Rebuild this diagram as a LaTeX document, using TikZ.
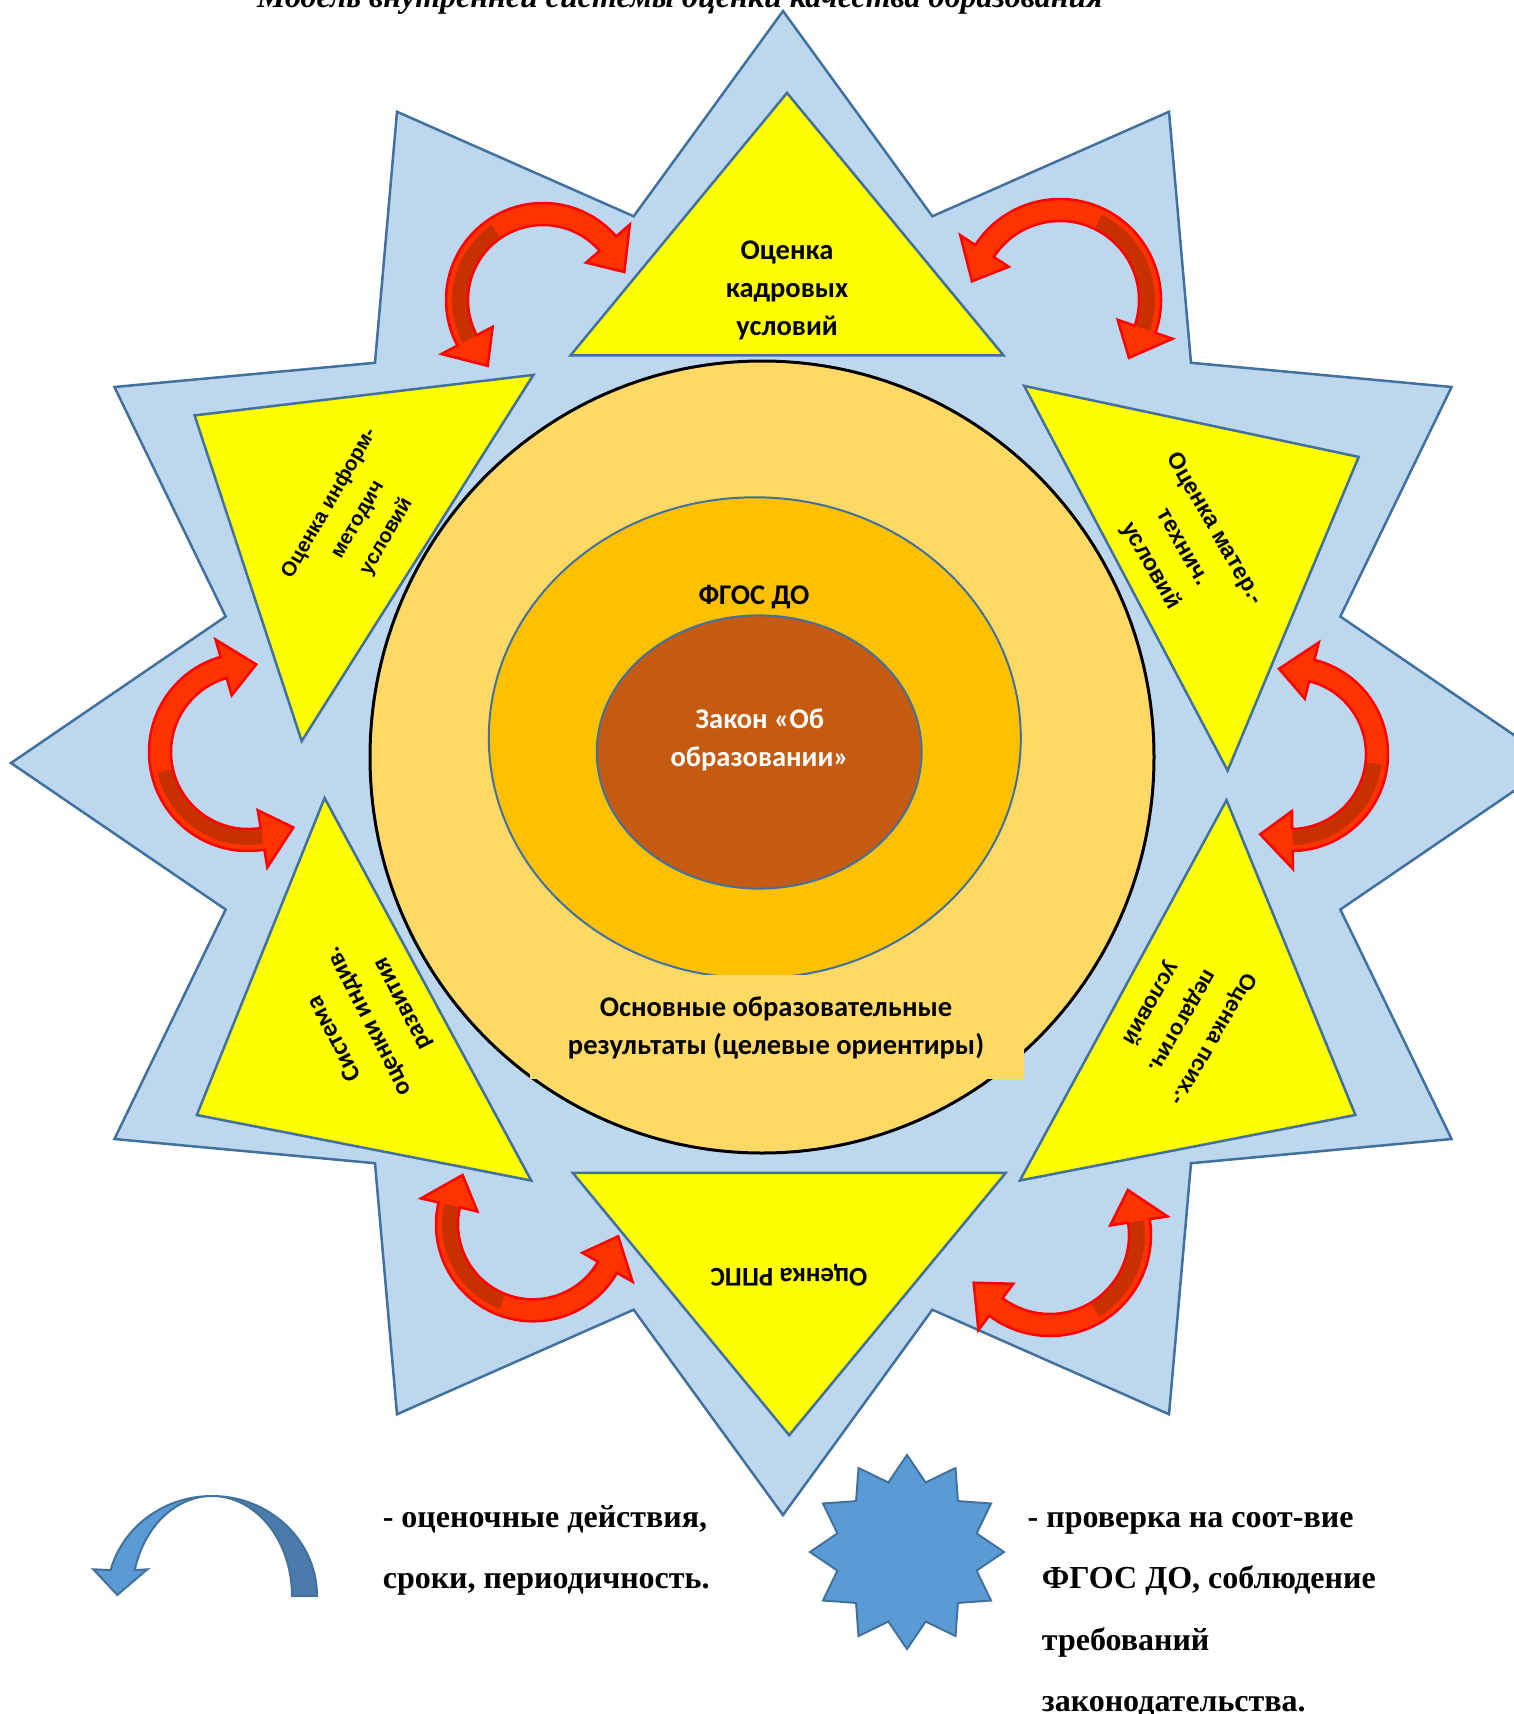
\documentclass[tikz,border=0pt]{standalone}
\usepackage{fontspec}
\setmainfont{Carlito}
\newfontfamily\ari{Liberation Sans}
\newfontfamily\tnr{Liberation Serif}
\usetikzlibrary{calc}
\definecolor{starblue}{HTML}{BDD7EE}
\definecolor{edgeblue}{HTML}{41719C}
\definecolor{triyellow}{HTML}{FFFF00}
\definecolor{circfill}{HTML}{FFD966}
\definecolor{midfill}{HTML}{FFC000}
\definecolor{innfill}{HTML}{C55A11}
\definecolor{arrlight}{HTML}{FF3300}
\definecolor{arrdark}{HTML}{C83000}
\definecolor{arredge}{HTML}{FF0000}
\definecolor{legblue}{HTML}{5B9BD5}
\definecolor{legdark}{HTML}{4A7BAA}
\tikzset{
  tri/.style={fill=triyellow,draw=edgeblue,line width=2.5pt,line join=miter},
  caltext/.style={font=\bfseries\fontsize{28.5}{38}\selectfont,align=center,inner sep=0pt},
  aritext/.style={align=center,inner sep=0pt},
  legtext/.style={font=\tnr\bfseries\fontsize{32}{61}\selectfont,anchor=base west,inner sep=0pt},
}
\newcommand{\rarrow}[6]{%
 \begin{scope}[shift={(#1,#2)}]
  \pgfmathsetmacro\Ra{#3}\pgfmathsetmacro\Aa{#4}\pgfmathsetmacro\Ab{#5}
  \pgfmathsetmacro\Dl{33/\Ra*180/pi}
  \pgfmathsetmacro\Ba{\Aa+\Dl}\pgfmathsetmacro\Bb{\Ab-\Dl}
  \pgfmathsetmacro\Ro{\Ra+11}\pgfmathsetmacro\Ri{\Ra-11}
  \pgfmathsetmacro\Ho{\Ra+29}\pgfmathsetmacro\Hi{\Ra-29}
  \pgfmathsetmacro\Mid{(\Aa+\Ab)/2}
  \pgfmathsetmacro\Rd{\Ra+5}
  \ifnum#6=1 \pgfmathsetmacro\Ds{\Ba}\pgfmathsetmacro\De{\Mid}\else \pgfmathsetmacro\Ds{\Mid}\pgfmathsetmacro\De{\Bb}\fi
  \fill[arrlight] (\Aa:\Ra) -- (\Ba:\Ho) -- (\Ba:\Ro) arc[start angle=\Ba,end angle=\Bb,radius=\Ro] -- (\Bb:\Ho) -- (\Ab:\Ra) -- (\Bb:\Hi) -- (\Bb:\Ri) arc[start angle=\Bb,end angle=\Ba,radius=\Ri] -- (\Ba:\Hi) -- cycle;
  \fill[arrdark] (\Ds:\Ri) arc[start angle=\Ds,end angle=\De,radius=\Ri] -- (\De:\Rd) arc[start angle=\De,end angle=\Ds,radius=\Rd] -- cycle;
  \draw[arredge,line width=2.5pt,line join=miter] (\Aa:\Ra) -- (\Ba:\Ho) -- (\Ba:\Ro) arc[start angle=\Ba,end angle=\Bb,radius=\Ro] -- (\Bb:\Ho) -- (\Ab:\Ra) -- (\Bb:\Hi) -- (\Bb:\Ri) arc[start angle=\Bb,end angle=\Ba,radius=\Ri] -- (\Ba:\Hi) -- cycle;
 \end{scope}}
\begin{document}
\begin{tikzpicture}[x=1pt,y=1pt]
\useasboundingbox (0,0) rectangle (1514,-1714);
\fill[white] (0,0) rectangle (1514,-1714);
% title (cut off at top)
\node[font=\tnr\bfseries\itshape\fontsize{32}{38}\selectfont,anchor=base,inner sep=0pt] (title) at (680,-7) {Модель внутренней системы оценки качества образования};
% big star
\begin{scope}[shift={(783,-763)}]
\draw[fill=starblue,draw=edgeblue,line width=2.5pt,line join=miter] (90:772 and 752)
  \foreach \k in {1,...,11} { -- ({90+30*\k-15}:577 and 566) -- ({90+30*\k}:772 and 752) }
  -- (75:577 and 566) -- cycle;
\end{scope}
% circles
\draw[fill=circfill,draw=black,line width=3pt] (762,-757) ellipse[x radius=392,y radius=396];
\draw[fill=midfill,draw=edgeblue,line width=2pt] (754.8,-737.8) ellipse[x radius=266,y radius=240.5];
\draw[fill=innfill,draw=edgeblue,line width=2pt] (759.2,-752) ellipse[x radius=162.4,y radius=136.6];
% triangles
\draw[tri] (787,-92.9) -- (570.6,-355.3) -- (1003.5,-355.3) -- cycle;
\draw[tri] (194.6,-415.4) -- (533.4,-374.9) -- (301.7,-741.1) -- cycle;
\draw[tri] (1024.2,-385.9) -- (1358.7,-456.9) -- (1227.6,-770.6) -- cycle;
\draw[tri] (324.6,-798) -- (531.2,-1180.5) -- (196.8,-1115) -- cycle;
\draw[tri] (1226.5,-800.2) -- (1355.4,-1115) -- (1019.9,-1180.5) -- cycle;
\draw[tri] (572.8,-1172.9) -- (1005.7,-1172.9) -- (789.2,-1435.2) -- cycle;
% text box for results
\fill[circfill] (530,-975) rectangle (1024,-1079);
% red arrows
\rarrow{543}{-300}{86}{19}{230}{2}
\rarrow{1060}{-300}{90}{-40}{168}{1}
\rarrow{1291}{-754}{86}{-111}{98}{1}
\rarrow{248}{-752}{88}{84.6}{301}{2}
\rarrow{533}{-1224.3}{86}{145}{352}{1}
\rarrow{1050}{-1235}{90}{212}{390}{2}
% texts
\node[caltext] (kadr) at (787,-290) {Оценка\\кадровых\\условий};
\node[aritext,rotate=60,font=\ari\bfseries\fontsize{20.5}{33}\selectfont] (inform) at (358,-520) {Оценка информ-\\методич\\условий};
\node[aritext,rotate=-60,font=\ari\bfseries\fontsize{23}{37}\selectfont] (mater) at (1182.5,-547.5) {Оценка матер.-\\технич.\\условий};
\node[aritext,rotate=240,font=\ari\bfseries\fontsize{22}{36}\selectfont] (psych) at (1181.7,-1020.8) {Оценка псих.-\\педагогич.\\условий};
\node[caltext,rotate=117,font=\bfseries\fontsize{25.5}{38}\selectfont] (indiv) at (369,-1021) {Система\\оценки индив.\\развития};
\node[caltext,rotate=180,font=\bfseries\fontsize{27}{34}\selectfont] (rpps) at (789,-1275.6) {Оценка РППС};
\node[caltext] (fgos) at (754,-597) {ФГОС ДО};
\node[caltext,text=white] (zakon) at (759.7,-740) {Закон «Об\\образовании»};
\node[caltext] (osn) at (776,-1028) {Основные образовательные\\результаты (целевые ориентиры)};
% legend arrow
\begin{scope}[shift={(212,-1596)}]
\draw[fill=legdark,draw=edgeblue,line width=2pt,line join=miter] (105,0) arc[start angle=0,end angle=90,x radius=105,y radius=100] arc[start angle=90,end angle=0,x radius=80,y radius=100] -- cycle;
\draw[fill=legblue,draw=edgeblue,line width=2pt,line join=miter] (0,100) arc[start angle=90,end angle=165,x radius=105,y radius=100] -- (-118.7,26.7) -- (-94.7,1) -- (-64.7,26.7) -- (165:80 and 100) arc[start angle=165,end angle=90,x radius=80,y radius=100] -- cycle;
\end{scope}
% legend star
\begin{scope}[shift={(907,-1552)}]
\draw[fill=legblue,draw=edgeblue,line width=2pt,line join=miter] (90:97)
  \foreach \k in {1,...,11} { -- ({90+30*\k-15}:72) -- ({90+30*\k}:97) }
  -- (75:72) -- cycle;
\end{scope}
% legend texts
\node[legtext] (l1) at (382.6,-1527) {- оценочные действия,};
\node[legtext] (l2) at (382.6,-1588.6) {сроки, периодичность.};
\node[legtext] (r1) at (1027.5,-1527) {- проверка на соот-вие};
\node[legtext] (r2) at (1041.7,-1588.6) {ФГОС ДО, соблюдение};
\node[legtext] (r3) at (1041.7,-1650) {требований};
\node[legtext] (r4) at (1041.7,-1711) {законодательства.};
\end{tikzpicture}
\end{document}
